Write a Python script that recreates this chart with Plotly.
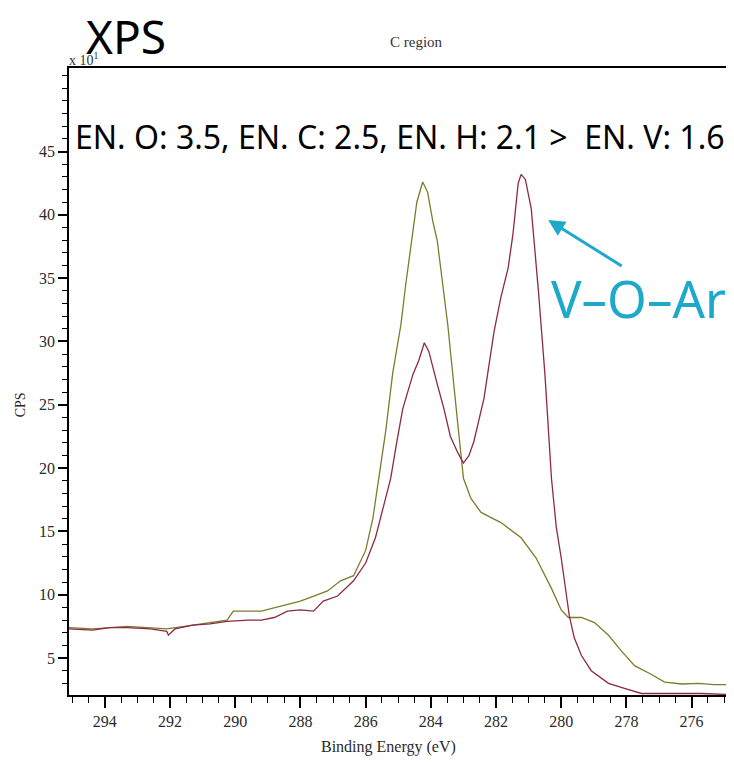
import plotly.graph_objects as go

# Binding energy (eV) and counts (x10 CPS)
red_be = [295.1, 294.37, 293.85, 293.32, 292.6, 292.1, 292.05, 291.85, 291.3, 290.77, 290.25,
          289.6, 289.2, 288.8, 288.4, 288.0, 287.6, 287.3, 286.86, 286.37, 286.0, 285.7,
          285.45, 285.23, 285.05, 284.86, 284.55, 284.37, 284.2, 284.06, 283.8, 283.6,
          283.4, 283.17, 283.0, 282.83, 282.68, 282.37, 282.06, 281.85, 281.63, 281.48,
          281.32, 281.23, 281.1, 280.92, 280.7, 280.5, 280.3, 280.15, 280.0, 279.85,
          279.75, 279.6, 279.38, 279.08, 278.55, 278.06, 277.54, 276.52, 275.7, 274.68]
red_cps = [7.3, 7.2, 7.4, 7.4, 7.3, 7.1, 6.8, 7.3, 7.6, 7.7, 7.9,
           8.0, 8.0, 8.2, 8.7, 8.8, 8.7, 9.5, 9.9, 11.1, 12.5, 14.5,
           17.0, 19.2, 22.0, 24.7, 27.4, 28.5, 29.9, 29.2, 26.6, 24.7,
           22.5, 21.2, 20.4, 21.0, 22.1, 25.5, 30.8, 33.5, 35.8, 38.5,
           42.5, 43.2, 42.8, 40.5, 34.0, 27.4, 19.2, 15.3, 12.9, 10.3,
           8.3, 6.6, 5.2, 4.0, 3.0, 2.6, 2.2, 2.2, 2.2, 2.1]

olive_be = [295.1, 294.37, 293.32, 292.1, 291.3, 290.25, 290.06, 289.2, 288.6, 288.0,
            287.17, 286.77, 286.37, 286.0, 285.78, 285.6, 285.38, 285.17, 284.92, 284.77,
            284.6, 284.43, 284.25, 284.1, 283.94, 283.8, 283.48, 283.32, 283.17, 283.0,
            282.77, 282.46, 281.85, 281.23, 280.77, 280.3, 280.0, 279.78, 279.38, 278.98,
            278.55, 278.15, 277.75, 277.23, 276.83, 276.3, 275.78, 275.3, 274.68]
olive_cps = [7.4, 7.3, 7.5, 7.3, 7.6, 8.0, 8.7, 8.7, 9.1, 9.5,
             10.3, 11.1, 11.5, 13.5, 16.0, 19.2, 23.0, 27.5, 31.3, 34.5,
             37.9, 41.0, 42.6, 41.8, 39.5, 37.9, 31.3, 27.5, 23.4, 19.2,
             17.6, 16.5, 15.7, 14.5, 12.9, 10.5, 8.8, 8.2, 8.2, 7.8,
             6.8, 5.55, 4.4, 3.7, 3.1, 2.95, 3.0, 2.9, 2.9]

x_ticks = [294, 292, 290, 288, 286, 284, 282, 280, 278, 276]
y_ticks = [5, 10, 15, 20, 25, 30, 35, 40, 45]

SERIF = "Liberation Serif"
SANS = "Noto Sans"
TEAL = "#1ea9cb"
TXT = "#2a2a2a"

fig = go.Figure()
fig.add_trace(go.Scatter(x=olive_be, y=olive_cps, mode="lines",
                         line=dict(color="#7c7c2c", width=1.3), showlegend=False))
fig.add_trace(go.Scatter(x=red_be, y=red_cps, mode="lines",
                         line=dict(color="#8c2a42", width=1.3), showlegend=False))

fig.update_layout(
    width=734, height=763,
    margin=dict(l=61, r=8, t=60, b=76),
    paper_bgcolor="white", plot_bgcolor="white",
    showlegend=False,
    xaxis=dict(range=[295.1, 274.7], tickvals=x_ticks, ticktext=[str(v) for v in x_ticks],
               automargin=False,
               showgrid=False, zeroline=False, showline=True, linecolor="black", linewidth=1.5,
               mirror=True, ticks="outside", ticklen=11, tickwidth=1.5, tickcolor="black",
               minor=dict(dtick=0.5, tick0=294, ticks="outside", ticklen=6, tickwidth=1.2, tickcolor="black"),
               tickfont=dict(family=SERIF, size=16, color=TXT)),
    yaxis=dict(range=[2.08, 51.6], tickvals=y_ticks, ticktext=[str(v) for v in y_ticks],
               automargin=False,
               showgrid=False, zeroline=False, showline=True, linecolor="black", linewidth=1.5,
               ticks="outside", ticklen=9, tickwidth=1.5, tickcolor="black",
               minor=dict(dtick=1, tick0=0, ticks="outside", ticklen=5, tickwidth=1.2, tickcolor="black"),
               tickfont=dict(family=SERIF, size=16, color=TXT)),
)

# axis titles
fig.add_annotation(text="Binding Energy (eV)", xref="paper", yref="paper", x=0.48, y=0.0, yshift=-52,
                   xanchor="center", yanchor="middle", showarrow=False,
                   font=dict(family=SERIF, size=16, color=TXT))
fig.add_annotation(text="CPS", xref="paper", yref="paper", x=0.0, xshift=-49, y=0.462,
                   xanchor="center", yanchor="middle", textangle=-90, showarrow=False,
                   font=dict(family=SERIF, size=14, color=TXT))

fig.add_annotation(text="XPS", xref="paper", yref="paper", x=0.022, y=1.0, yshift=32,
                   xanchor="left", yanchor="middle", showarrow=False,
                   font=dict(family=SANS, size=46, color="black"))
fig.add_annotation(text="C region", xref="paper", yref="paper", x=0.522, y=1.0, yshift=26,
                   xanchor="center", yanchor="middle", showarrow=False,
                   font=dict(family=SERIF, size=15, color="#333"))
fig.add_annotation(text="x 10<sup>1</sup>", xref="paper", yref="paper", x=0.0, xshift=-2, y=1.0, yshift=-2,
                   xanchor="left", yanchor="bottom", showarrow=False,
                   font=dict(family=SERIF, size=14, color="#333"))
fig.add_annotation(text="EN. O: 3.5, EN. C: 2.5, EN. H: 2.1 &gt;  EN. V: 1.6", xref="paper", yref="paper",
                   x=0.006, y=0.89, xanchor="left", yanchor="middle", showarrow=False,
                   font=dict(family=SANS, size=32, color="black"))
fig.add_annotation(text="V–O–Ar", xref="paper", yref="paper", x=0.991, y=0.633,
                   xanchor="right", yanchor="middle", showarrow=False,
                   font=dict(family=SANS, size=51, color=TEAL))
fig.add_annotation(x=280.4, y=39.6, ax=75, ay=47, axref="pixel", ayref="pixel",
                   xref="x", yref="y", showarrow=True, arrowhead=2, arrowsize=1.1,
                   arrowwidth=3, arrowcolor=TEAL, text="")

fig.write_html("out.html")
